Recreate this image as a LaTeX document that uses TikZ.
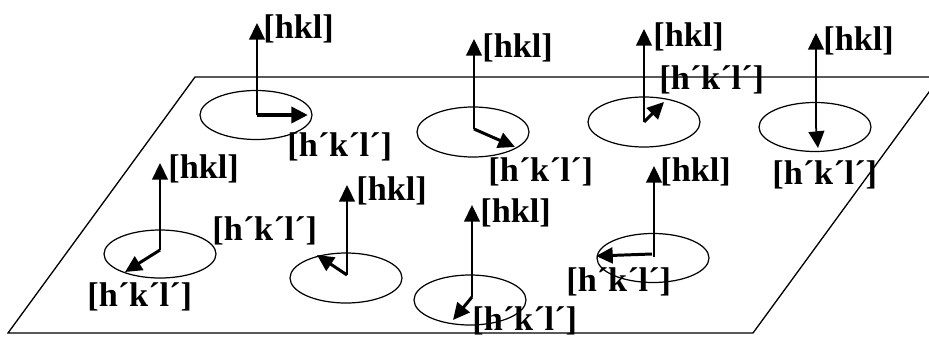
\documentclass[tikz,border=0pt]{standalone}
\usepackage{fontspec}
\setmainfont{Liberation Serif}
\usetikzlibrary{arrows.meta}

\begin{document}
\begin{tikzpicture}[
  x=0.02cm,y=-0.02cm,
  >={Triangle[length=9.5pt,width=9pt]},
  font=\fontsize{19.5}{22}\selectfont\bfseries,
  plane/.style={draw,line width=0.75pt},
  site/.style={draw,line width=0.7pt},
  normal/.style={draw,line width=1pt,->},
  inplane/.style={draw,line width=1.7pt,->},
  lab/.style={anchor=west,inner sep=0pt}]

\useasboundingbox (0,0) rectangle (929,338);

% --- the crystal plane (its top right corner runs off the picture) ---
\begin{scope}
  \clip (0,0) rectangle (929,338);
  \draw[plane] (195,77) -- (940,77) -- (753,333) -- (8,333) -- cycle;
\end{scope}

% --- back row of sites ---
\coordinate (cA) at (257,115);  \coordinate (nA) at (257,23);  \coordinate (iA) at (308,115);
\draw[site] (256,115) ellipse [x radius=56,y radius=24.5];
\draw[normal] (cA) -- (nA);
\draw[inplane,line width=2.5pt] (cA) -- (iA);
\node[lab] (hklA) at (263,29) {[hkl]};
\node[lab] (hklpA) at (287,147) {[h´k´l´]};

\coordinate (cB) at (474,129);  \coordinate (nB) at (474,39);  \coordinate (iB) at (515,147);
\draw[site] (473,132) ellipse [x radius=56,y radius=25];
\draw[normal] (cB) -- (nB);
\draw[inplane] (cB) -- (iB);
\node[lab] (hklB) at (482,48) {[hkl]};
\node[lab] (hklpB) at (488,172) {[h´k´l´]};

\coordinate (cC) at (644,122);  \coordinate (nC) at (644,29);  \coordinate (iC) at (664,102);
\draw[site] (644,122) ellipse [x radius=56,y radius=25];
\draw[normal] (cC) -- (nC);
\draw[inplane] (cC) -- (iC);
\node[lab] (hklC) at (653,37) {[hkl]};
\node[lab] (hklpC) at (659,80) {[h´k´l´]};

\coordinate (cD) at (816,127);  \coordinate (nD) at (816,33);  \coordinate (iD) at (818,148);
\draw[site] (815,127) ellipse [x radius=56,y radius=24.5];
\draw[normal] (cD) -- (nD);
\draw[normal] (cD) -- (iD);
\node[lab] (hklD) at (823,41) {[hkl]};
\node[lab] (hklpD) at (772,175) {[h´k´l´]};

% --- front row of sites ---
\coordinate (cE) at (160,250);  \coordinate (nE) at (160,163);  \coordinate (iE) at (125,272);
\draw[site] (160,254) ellipse [x radius=56,y radius=24];
\draw[normal] (cE) -- (nE);
\draw[inplane] (cE) -- (iE);
\node[lab] (hklE) at (168,169) {[hkl]};
\node[lab] (hklpE) at (87,297) {[h´k´l´]};

\coordinate (cF) at (347,275);  \coordinate (nF) at (347,185);  \coordinate (iF) at (317,255);
\draw[site] (346,278) ellipse [x radius=56,y radius=25];
\draw[normal] (cF) -- (nF);
\draw[inplane] (cF) -- (iF);
\node[lab] (hklF) at (356,191) {[hkl]};
\node[lab] (hklpF) at (212,231) {[h´k´l´]};

\coordinate (cG) at (472,297);  \coordinate (nG) at (472,205);  \coordinate (iG) at (453,320);
\draw[site] (470,300) ellipse [x radius=56,y radius=25];
\draw[normal] (cG) -- (nG);
\draw[inplane] (cG) -- (iG);
\node[lab] (hklG) at (480,213) {[hkl]};
\node[lab] (hklpG) at (472,321) {[h´k´l´]};

\coordinate (cH) at (652,254);  \coordinate (nH) at (654,166);  \coordinate (iH) at (596,256);
\draw[site] (653,258) ellipse [x radius=56,y radius=24.5];
\draw[normal] (654,257) -- (nH);
\draw[inplane] (cH) -- (iH);
\node[lab] (hklH) at (660,172) {[hkl]};
\node[lab] (hklpH) at (566,282) {[h´k´l´]};

\end{tikzpicture}
\end{document}
